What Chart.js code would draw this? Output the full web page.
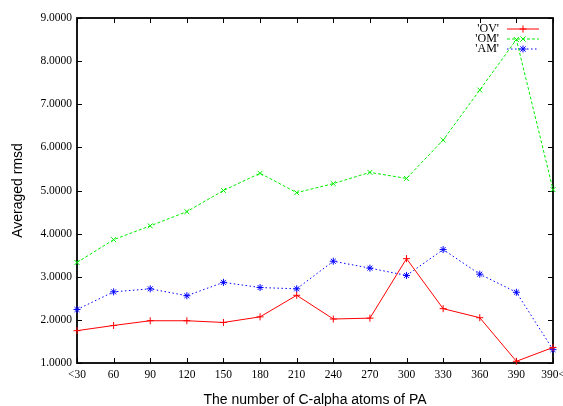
<!DOCTYPE html>
<html lang="en">
<head>
<meta charset="UTF-8">
<title>Averaged rmsd</title>
<script src="https://cdn.jsdelivr.net/npm/chart.js@4.4.0/dist/chart.umd.min.js"></script>
<style>
  body { margin: 0; background: #ffffff; }
  #wrap { width: 563px; height: 406px; }
</style>
</head>
<body>
<div id="wrap"><canvas id="chart" width="563" height="406"></canvas></div>
<script>
// data
const categories = ['<30', '60', '90', '120', '150', '180', '210', '240', '270', '300', '330', '360', '390', '390<'];
const ovValues = [1.75, 1.87, 1.98, 1.98, 1.94, 2.07, 2.57, 2.02, 2.04, 3.42, 2.26, 2.05, 1.04, 1.36];
const omValues = [3.33, 3.86, 4.18, 4.51, 5.00, 5.40, 4.95, 5.16, 5.42, 5.28, 6.17, 7.33, 8.50, 5.02];
const amValues = [2.24, 2.65, 2.72, 2.56, 2.87, 2.75, 2.72, 3.36, 3.20, 3.03, 3.63, 3.06, 2.64, 1.31];
const seriesNames = ["'OV'", "'OM'", "'AM'"];

const serif = "'Liberation Serif', 'Times New Roman', serif";
const sans = "'Liberation Sans', Arial, sans-serif";

// gnuplot style frame with inward ticks on all four sides
const framePlugin = {
    id: 'frame',
    beforeDatasetsDraw(chart) {
        const ctx = chart.ctx;
        const a = chart.chartArea;
        const xs = chart.scales.x, ys = chart.scales.y;
        ctx.save();
        ctx.strokeStyle = '#000';
        ctx.lineWidth = 1;
        ctx.beginPath();
        xs.ticks.forEach((t, i) => {
            const x = Math.round(xs.getPixelForTick(i)) + 0.5;
            ctx.moveTo(x, a.bottom); ctx.lineTo(x, a.bottom - 5);
            ctx.moveTo(x, a.top); ctx.lineTo(x, a.top + 5);
        });
        ys.ticks.forEach(t => {
            const y = Math.round(ys.getPixelForValue(t.value)) + 0.5;
            ctx.moveTo(a.left, y); ctx.lineTo(a.left + 5, y);
            ctx.moveTo(a.right, y); ctx.lineTo(a.right - 5, y);
        });
        ctx.stroke();
        ctx.lineWidth = 1.8;
        ctx.strokeRect(a.left, a.top, a.right - a.left, a.bottom - a.top);
        ctx.restore();
    }
};

function marker(ctx, style, x, y, r) {
    ctx.beginPath();
    if (style === 'cross' || style === 'star') {
        ctx.moveTo(x - r, y); ctx.lineTo(x + r, y);
        ctx.moveTo(x, y - r); ctx.lineTo(x, y + r);
    }
    if (style === 'crossRot' || style === 'star') {
        const d = r * 0.75;
        ctx.moveTo(x - d, y - d); ctx.lineTo(x + d, y + d);
        ctx.moveTo(x - d, y + d); ctx.lineTo(x + d, y - d);
    }
    ctx.stroke();
}

// legend in the top right corner: text, then line sample with marker
const keyPlugin = {
    id: 'key',
    afterDatasetsDraw(chart) {
        const ctx = chart.ctx;
        ctx.save();
        ctx.font = '12px ' + serif;
        ctx.textAlign = 'right';
        ctx.textBaseline = 'middle';
        chart.data.datasets.forEach((ds, i) => {
            const y = 29 + i * 10;
            ctx.fillStyle = '#000';
            ctx.fillText(ds.label, 499, y);
            ctx.strokeStyle = ds.borderColor;
            ctx.lineWidth = 1;
            ctx.setLineDash(ds.borderDash || []);
            ctx.beginPath();
            ctx.moveTo(507, y); ctx.lineTo(539, y);
            ctx.stroke();
            ctx.setLineDash([]);
            marker(ctx, ds.pointStyle, 523, y, 3.5);
        });
        ctx.restore();
    }
};

function makeSet(label, data, color, dash, style) {
    return {
        label: label,
        data: data,
        borderColor: color,
        backgroundColor: color,
        borderWidth: 1,
        borderDash: dash,
        pointStyle: style,
        pointRadius: 3.5,
        pointBorderWidth: 1,
        pointBorderColor: color,
        tension: 0,
        fill: false,
        clip: false
    };
}

new Chart(document.getElementById('chart'), {
    type: 'line',
    data: {
        labels: categories,
        datasets: [
            makeSet(seriesNames[0], ovValues, '#ff0000', [], 'cross'),
            makeSet(seriesNames[1], omValues, '#00ee00', [3, 2], 'crossRot'),
            makeSet(seriesNames[2], amValues, '#0000ff', [1.5, 2.5], 'star')
        ]
    },
    options: {
        responsive: false,
        animation: false,
        layout: { padding: { top: 18, right: 10, left: 0, bottom: 0 } },
        plugins: {
            legend: { display: false },
            tooltip: { enabled: false }
        },
        scales: {
            x: {
                type: 'category',
                offset: false,
                grid: { display: false, drawTicks: false, offset: false },
                border: { display: false },
                ticks: {
                    autoSkip: false, maxRotation: 0,
                    padding: 5, color: '#000',
                    font: { family: serif, size: 11.5 }
                },
                title: {
                    display: true, text: 'The number of C-alpha atoms of PA',
                    color: '#000', font: { family: sans, size: 14 },
                    padding: { top: 0, bottom: -3 }
                },
                afterFit(s) { s.height = 43; s.paddingLeft = 0; s.paddingRight = 0; }
            },
            y: {
                min: 1, max: 9,
                grid: { display: false, drawTicks: false },
                border: { display: false },
                ticks: {
                    stepSize: 1, padding: 5, color: '#000',
                    font: { family: serif, size: 11.5 },
                    callback: v => Number(v).toFixed(4)
                },
                title: {
                    display: true, text: 'Averaged rmsd',
                    color: '#000', font: { family: sans, size: 14 },
                    padding: { top: 10, bottom: 0 }
                },
                afterFit(s) { s.width = 77; s.paddingTop = 0; s.paddingBottom = 0; }
            }
        }
    },
    plugins: [framePlugin, keyPlugin]
});
</script>
</body>
</html>
